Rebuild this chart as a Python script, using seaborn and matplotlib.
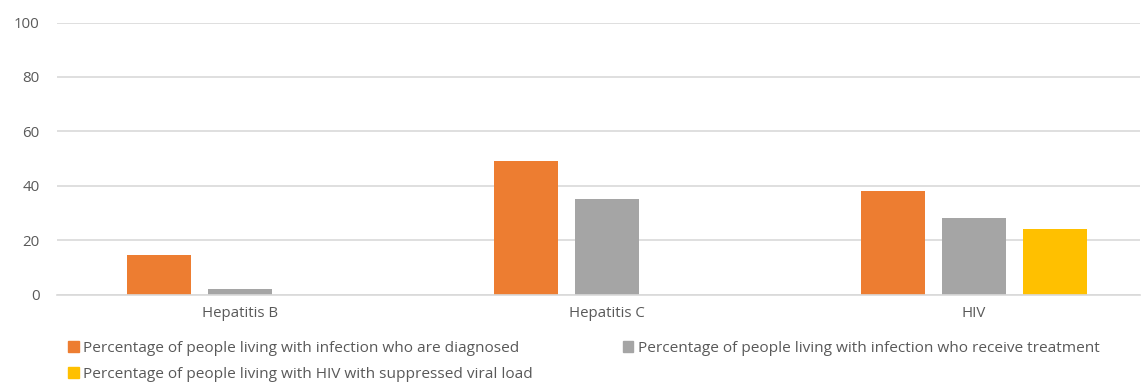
import matplotlib
matplotlib.use("Agg")
import matplotlib.pyplot as plt
import seaborn as sns
import pandas as pd

categories = ["Hepatitis B", "Hepatitis C", "HIV"]
series_names = [
    "Percentage of people living with infection who are diagnosed",
    "Percentage of people living with infection who receive treatment",
    "Percentage of people living with HIV with suppressed viral load",
]
diagnosed = [14.6, 49, 38]
treated = [2, 35, 28]
suppressed = [0, 0, 24]
colors = ["#ED7D31", "#A5A5A5", "#FFC000"]
y_ticks = [0, 20, 40, 60, 80, 100]

rows = []
for name, vals in zip(series_names, [diagnosed, treated, suppressed]):
    for cat, v in zip(categories, vals):
        rows.append({"category": cat, "series": name, "value": v})
df = pd.DataFrame(rows)

sns.set_theme(style="white")
plt.rcParams["font.family"] = ["Open Sans", "DejaVu Sans"]
text_color = "#595959"

fig = plt.figure(figsize=(11.44, 3.87), dpi=100)
ax = fig.add_axes([57 / 1144, 92.5 / 387, 1083 / 1144, 272 / 387])

sns.barplot(data=df, x="category", y="value", hue="series",
            hue_order=series_names, palette=colors, order=categories,
            width=0.663, gap=0.21, ax=ax, legend=False, saturation=1,
            edgecolor="none")

ax.set_ylim(0, 100)
ax.set_xlim(-0.5, 2.454)
ax.set_yticks(y_ticks)
ax.set_yticklabels([str(t) for t in y_ticks])
ax.yaxis.grid(True, color="#d9d9d9", linewidth=1.2)
ax.set_axisbelow(True)
for s in ["top", "right", "left"]:
    ax.spines[s].set_visible(False)
ax.spines["bottom"].set_color("#d9d9d9")
ax.spines["bottom"].set_linewidth(1.2)
ax.tick_params(axis="both", length=0, labelsize=10.8, colors=text_color)
ax.tick_params(axis="y", pad=12.5)
ax.tick_params(axis="x", pad=8)
ax.set_xlabel("")
ax.set_ylabel("")

# legend filled column-wise: reorder so rows read diagnosed, treatment / suppressed
order = [0, 2, 1]
handles = [plt.Rectangle((0, 0), 1, 1, color=colors[i]) for i in order]
labels = [series_names[i] for i in order]
fig.legend(handles, labels, loc="upper left",
           bbox_to_anchor=(68 / 1144, 1 - 341 / 387), ncol=2, frameon=False,
           fontsize=11.1, labelcolor=text_color, handlelength=0.7,
           handleheight=0.7, handletextpad=0.3, columnspacing=5.8,
           labelspacing=0.72, borderaxespad=0, borderpad=0)

fig.savefig("out.png", dpi=100)
